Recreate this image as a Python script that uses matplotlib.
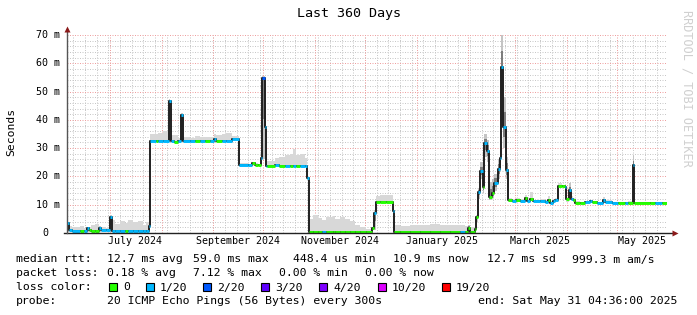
import matplotlib
matplotlib.use("Agg")
import matplotlib.pyplot as plt
import matplotlib.dates as mdates
from matplotlib.patches import Rectangle
from datetime import datetime, timedelta

plt.rcParams['font.family'] = ['DejaVu Sans Mono']

# ---- data ----
# day offset from start of the 360 day window, median rtt (ms),
# loss bucket (0 = none, 1 = 1/20, 2 = 2/20), smoke low / high (ms)
days = [0.0, 1.2, 3.0, 7.8, 10.2, 12.0, 13.2, 14.4, 16.8, 19.2, 20.4, 23.4, 25.8, 27.0, 28.8,
        31.8, 34.8, 36.6, 39.6, 42.6, 45.6, 47.4, 49.2, 49.8, 53.4, 54.6, 57.6, 61.2, 62.1, 64.2,
        66.6, 68.1, 69.3, 73.8, 76.8, 79.8, 82.8, 85.8, 88.2, 89.4, 93.0, 95.4, 99.0, 103.2, 108.6,
        111.0, 112.8, 114.6, 116.1, 117.2, 118.5, 119.2, 120.0, 124.8, 127.2, 130.8, 133.8, 135.6, 137.4,
        139.8, 142.8, 144.2, 145.0, 147.6, 150.6, 153.0, 155.4, 159.6, 160.8, 163.8, 166.8, 169.8, 172.8,
        175.8, 179.4, 183.0, 184.2, 185.2, 187.8, 191.4, 195.4, 196.4, 199.8, 205.8, 211.8, 217.8, 223.8,
        229.8, 235.8, 238.8, 240.8, 241.8, 244.5, 245.6, 246.4, 248.0, 249.6, 250.4, 252.0, 253.2, 254.7,
        256.2, 258.3, 259.5, 260.6, 261.8, 263.1, 264.3, 267.0, 269.4, 271.8, 274.8, 276.0, 277.8, 279.6,
        283.8, 286.8, 288.6, 289.8, 291.6, 292.8, 294.3, 297.0, 298.5, 299.4, 300.9, 302.3, 303.6, 304.8,
        307.8, 310.8, 313.8, 315.0, 318.0, 321.3, 322.8, 327.0, 330.6, 334.8, 336.6, 339.3, 340.4, 349.8,
        352.8, 357.0]
median = [3.4, 1.1, 0.6, 0.6, 0.6, 1.7, 1.0, 0.6, 0.6, 1.7, 0.9, 0.9, 5.6, 0.6, 0.6,
          0.6, 0.6, 0.6, 0.6, 0.6, 0.6, 0.6, 2.5, 32.6, 32.6, 32.6, 32.6, 46.5, 32.6, 32.2,
          32.6, 41.8, 32.6, 32.6, 32.6, 32.6, 32.6, 32.6, 33.4, 32.6, 32.6, 32.6, 33.2, 24.0, 24.0,
          24.6, 24.0, 24.0, 26.4, 54.7, 37.6, 23.8, 23.8, 24.2, 23.8, 23.8, 23.8, 23.8, 23.8,
          23.8, 23.8, 19.3, 0.4, 0.4, 0.4, 0.4, 0.4, 0.4, 0.4, 0.4, 0.4, 0.4, 0.4,
          0.4, 0.4, 1.6, 7.2, 10.9, 10.9, 10.9, 7.9, 0.4, 0.4, 0.4, 0.4, 0.4, 0.4,
          0.4, 0.4, 0.4, 1.6, 0.4, 1.3, 5.8, 14.6, 21.9, 16.4, 31.7, 29.1, 12.8, 14.0,
          17.6, 22.5, 26.4, 58.8, 37.6, 22.3, 11.7, 11.4, 11.6, 11.2, 12.5, 11.4, 11.9, 11.2,
          11.2, 11.0, 11.8, 10.6, 11.4, 11.8, 16.7, 16.7, 16.4, 12.0, 15.2, 12.0, 11.5, 10.7,
          10.7, 10.9, 11.3, 10.8, 10.7, 11.5, 11.0, 10.6, 10.6, 10.6, 10.7, 24.0, 10.7, 10.7,
          10.7, 10.7]
loss = [1, 1, 1, 0, 1, 1, 0, 0, 0, 1, 1, 1, 1, 1, 1,
        1, 0, 1, 1, 1, 1, 1, 1, 1, 0, 1, 1, 1, 1, 0,
        1, 1, 1, 1, 0, 1, 0, 1, 1, 0, 1, 1, 1, 1, 1,
        0, 0, 0, 1, 2, 1, 1, 0, 1, 0, 1, 0, 1, 0,
        1, 1, 1, 0, 0, 0, 1, 0, 0, 0, 0, 0, 0, 0,
        0, 0, 0, 1, 0, 0, 0, 1, 0, 0, 0, 0, 0, 0,
        0, 1, 0, 0, 0, 0, 0, 1, 1, 0, 1, 1, 0, 0,
        1, 1, 1, 1, 1, 1, 0, 1, 0, 1, 0, 1, 0, 1,
        1, 1, 0, 1, 1, 1, 0, 0, 1, 0, 1, 1, 0, 0,
        0, 1, 1, 0, 1, 1, 1, 1, 0, 1, 0, 1, 0, 0,
        1, 0]
smoke_lo = [0.3, 0.3, 0.3, 0.3, 0.3, 0.5, 0.3, 0.3, 0.3, 0.5, 0.3, 0.3, 0.3, 0.3, 0.3,
            0.3, 0.3, 0.3, 0.3, 0.3, 0.3, 0.3, 0.5, 32.2, 32.2, 32.2, 32.2, 33.0, 32.2, 32.0,
            32.2, 33.0, 32.0, 32.2, 32.2, 32.2, 32.2, 32.2, 32.8, 32.2, 32.2, 32.2, 32.8, 23.5, 23.5,
            24.2, 23.6, 23.6, 26.0, 26.0, 30.0, 23.5, 23.5, 23.8, 23.5, 23.5, 23.5, 23.5, 23.5,
            23.5, 23.5, 18.5, 0.2, 0.2, 0.2, 0.2, 0.2, 0.2, 0.2, 0.2, 0.2, 0.2, 0.2,
            0.2, 0.2, 1.0, 1.0, 10.5, 10.5, 10.5, 7.0, 0.2, 0.2, 0.2, 0.2, 0.2, 0.2,
            0.2, 0.2, 0.2, 0.3, 0.2, 0.3, 4.0, 12.0, 19.0, 14.0, 27.0, 25.0, 11.5, 12.5,
            15.0, 19.0, 22.0, 38.0, 30.0, 19.0, 11.0, 11.0, 11.2, 10.8, 12.0, 11.0, 11.4, 10.8,
            10.8, 10.6, 11.3, 10.3, 11.0, 11.4, 16.2, 16.3, 16.0, 11.0, 12.5, 11.5, 11.1, 10.4,
            10.4, 10.6, 11.0, 10.5, 10.4, 11.0, 10.7, 10.3, 10.3, 10.3, 10.4, 20.0, 10.4, 10.4,
            10.4, 10.4]
smoke_hi = [3.8, 2.5, 2.0, 2.3, 1.8, 2.2, 2.0, 3.0, 3.2, 2.5, 2.0, 1.6, 6.2, 4.5, 3.2,
            4.2, 3.5, 4.5, 3.8, 4.3, 2.8, 4.0, 3.0, 35.0, 35.0, 35.5, 36.0, 47.5, 34.5, 34.5,
            33.5, 42.3, 34.0, 33.6, 34.2, 34.0, 33.8, 34.0, 35.0, 34.5, 35.0, 35.5, 34.3, 24.6, 24.5,
            25.2, 24.6, 24.4, 27.0, 55.5, 45.0, 24.5, 25.5, 26.5, 27.0, 27.5, 28.0, 29.6, 27.5,
            27.8, 26.5, 20.0, 5.0, 6.2, 5.2, 4.6, 5.5, 6.0, 5.0, 5.6, 4.8, 4.2, 3.0,
            2.2, 1.5, 2.0, 8.0, 13.0, 13.6, 13.4, 8.5, 2.8, 2.4, 2.8, 3.0, 3.2, 3.0,
            2.8, 2.8, 2.6, 3.0, 2.0, 2.0, 6.5, 16.0, 25.0, 20.0, 35.0, 33.0, 18.0, 19.0,
            21.0, 26.0, 33.0, 70.0, 48.0, 27.0, 12.5, 12.0, 12.3, 12.0, 13.5, 12.2, 14.5, 11.8,
            12.0, 11.5, 13.0, 11.2, 11.9, 12.3, 17.6, 17.0, 17.2, 12.5, 17.6, 13.0, 12.2, 11.2,
            11.0, 11.3, 11.8, 11.2, 11.0, 12.6, 11.6, 11.0, 11.0, 11.0, 11.2, 27.2, 11.0, 11.0,
            11.0, 11.0]

loss_labels = ['0', '1/20', '2/20', '3/20', '4/20', '10/20', '19/20']
loss_colors = ['#26ff00', '#00b8ff', '#0059ff', '#5e00ff', '#7e00ff', '#dd00ff', '#ff0000']

end = datetime(2025, 5, 31, 4, 36)
start = end - timedelta(days=360)
t0 = mdates.date2num(start)
t = [t0 + d for d in days] + [t0 + 360]
widths = [t[i + 1] - t[i] for i in range(len(days))]

W, H = 697, 315
fig = plt.figure(figsize=(W / 100, H / 100), dpi=100)
fig.patch.set_facecolor('white')
ax = fig.add_axes([67 / W, (H - 233) / H, 600 / W, 198 / H])
ax.set_xlim(t0, t0 + 360)
ax.set_ylim(0, 70)
for s in ax.spines.values():
    s.set_visible(False)
ax.tick_params(length=0)
ax.set_xticks([])
ax.set_yticks([])

# grid
dot = (0, (1, 1.5))
minor_c = '#c8c8c8'
major_c = '#eea0a0'
for v in range(2, 71, 2):
    if v % 10:
        ax.axhline(v, color=minor_c, lw=0.72, ls=dot, zorder=0)
d = start.replace(hour=0, minute=0) + timedelta(days=(6 - start.weekday()) % 7)
while d < end:
    ax.axvline(mdates.date2num(d), color=minor_c, lw=0.72, ls=dot, zorder=0)
    d += timedelta(days=7)
for v in range(10, 71, 10):
    ax.axhline(v, color=major_c, lw=0.72, ls=dot, zorder=0)
months = [datetime(2024, m, 1) for m in range(7, 13)] + [datetime(2025, m, 1) for m in range(1, 6)]
for m in months:
    ax.axvline(mdates.date2num(m), color=major_c, lw=0.72, ls=dot, zorder=0)

# smoke: light where it sits above the median, darker where pings spread both ways
for i in range(len(days)):
    spread = median[i] - smoke_lo[i] > 1
    ax.bar(t[i], smoke_hi[i] - smoke_lo[i], width=widths[i], bottom=smoke_lo[i], align='edge',
           color='#c4c4c4' if spread else '#d8d8d8', lw=0, zorder=1)
    if spread:
        lo2 = median[i] - (median[i] - smoke_lo[i]) * 0.5
        hi2 = median[i] + (smoke_hi[i] - median[i]) * 0.5
        ax.bar(t[i], hi2 - lo2, width=widths[i], bottom=lo2, align='edge',
               color='#7c7c7c', lw=0, zorder=1)

# median line
ax.step(t, median + [median[-1]], where='post', color='#202020', lw=1.4, zorder=2)
for i in range(len(days)):
    ax.hlines(median[i], t[i], t[i + 1], color=loss_colors[loss[i]], lw=2.1, zorder=3)

# axes with arrows
ax.plot([-3 / 600, 1.01], [0, 0], transform=ax.transAxes, color='#222222', lw=1, clip_on=False, zorder=4)
ax.plot([0, 0], [0, 1.03], transform=ax.transAxes, color='#555555', lw=1, clip_on=False, zorder=4)
ax.plot([1.0 + 8 / 600], [0], transform=ax.transAxes, marker='>', ms=5, color='#8b1a1a',
        mec='none', clip_on=False, zorder=5)
ax.plot([0], [1 + 6 / 198], transform=ax.transAxes, marker='^', ms=5, color='#8b1a1a',
        mec='none', clip_on=False, zorder=5)

# y tick labels
for v in range(0, 71, 10):
    if v == 0:
        ax.text(-19 / 600, v, '0', ha='right', va='center', fontsize=7.2,
                transform=ax.get_yaxis_transform())
    else:
        ax.text(-7 / 600, v, '%d m' % v, ha='right', va='center', fontsize=7.2,
                transform=ax.get_yaxis_transform())
# x labels (centred mid-month)
lab_months = [(2024, 7, 'July 2024'), (2024, 9, 'September 2024'), (2024, 11, 'November 2024'),
              (2025, 1, 'January 2025'), (2025, 3, 'March 2025'), (2025, 5, 'May 2025')]
for y, m, s in lab_months:
    ax.text(mdates.date2num(datetime(y, m, 16)), -8 / 198 * 70, s, ha='center', va='center',
            fontsize=7.2)


def px(x, y):
    return x / W, 1 - y / H


fig.text(*px(349, 13), 'Last 360 Days', ha='center', va='center', fontsize=9.6)
fig.text(*px(11, 132), 'Seconds', ha='center', va='center', rotation=90, fontsize=8.2)
fig.text(*px(687, 88), 'RRDTOOL / TOBI OETIKER', ha='center', va='center', rotation=270,
         fontsize=8.6, color='#d0d0d0')

fs = 8.25
lines = [
    (259.5, [(16, 'median rtt:'), (107.3, '12.7 ms avg'), (192.7, '59.0 ms max'), (292.7, '448.4 us min'),
             (393.3, '10.9 ms now'), (486.7, '12.7 ms sd'), (572.3, '999.3 m am/s')]),
    (273.5, [(16, 'packet loss:'), (107.3, '0.18 % avg'), (193.3, '7.12 % max'), (279.3, '0.00 % min'),
             (365.0, '0.00 % now')]),
    (287.5, [(16, 'loss color:')]),
    (301.5, [(16, 'probe:'), (107.3, '20 ICMP Echo Pings (56 Bytes) every 300s'),
             (478.3, 'end: Sat May 31 04:36:00 2025')]),
]
for y, items in lines:
    for x, s in items:
        fig.text(*px(x, y), s, ha='left', va='center', fontsize=fs)

box_x = [109, 145.7, 203.3, 261, 319.3, 377.7, 441.7]
for bx, lab, c in zip(box_x, loss_labels, loss_colors):
    fig.patches.append(Rectangle(px(bx, 291), 8 / W, 8 / H, transform=fig.transFigure,
                                 facecolor=c, edgecolor='black', lw=0.8))
    fig.text(*px(bx + 14, 287.5), lab, ha='left', va='center', fontsize=fs)

fig.savefig('out.png', dpi=100)
